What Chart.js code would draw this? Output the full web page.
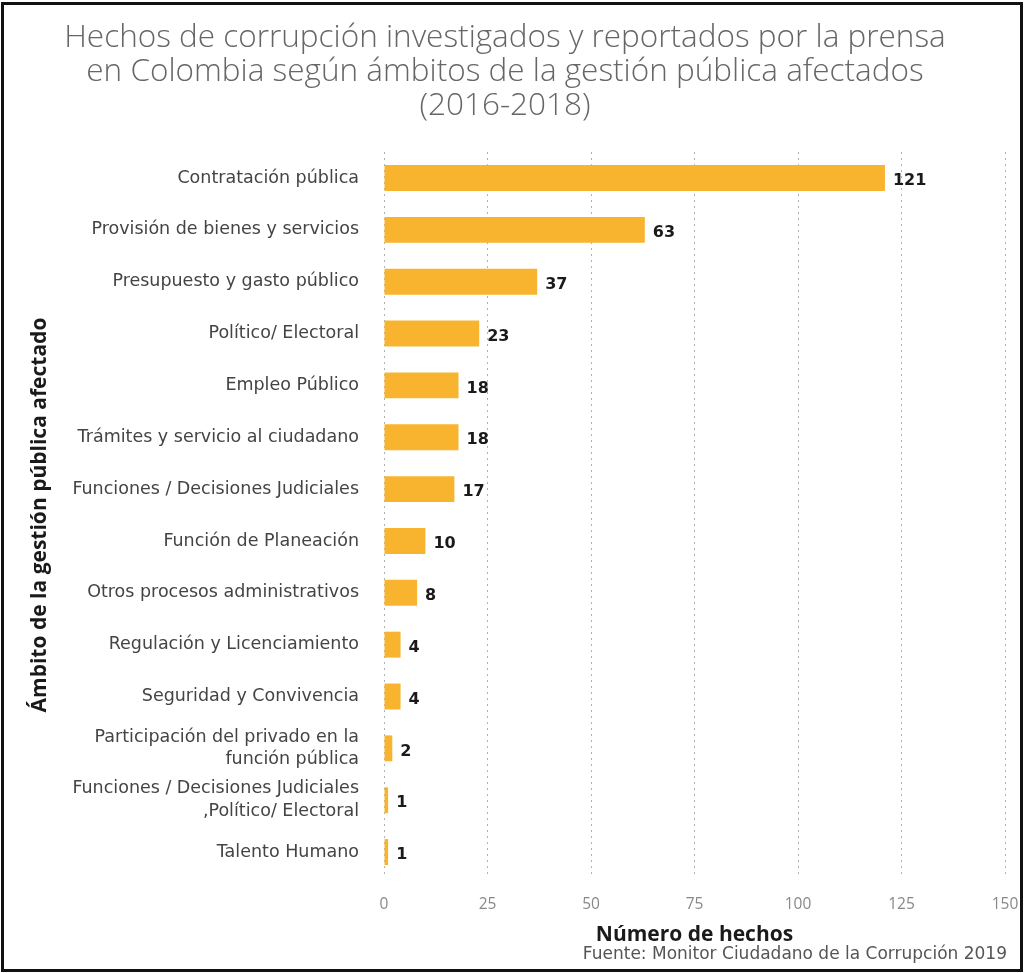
<!DOCTYPE html>
<html>
<head>
<meta charset="utf-8">
<script src="https://cdn.jsdelivr.net/npm/chart.js@4/dist/chart.umd.min.js"></script>
<style>
  html, body { margin: 0; padding: 0; background: #fff; }
  #wrap { position: absolute; left: 0; top: 0; width: 1024px; height: 973px; }
</style>
</head>
<body>
<div id="wrap"><canvas id="chart" width="1024" height="973"></canvas></div>
<script>
// ===== Data =====
const categories = [
  'Contratación pública',
  'Provisión de bienes y servicios',
  'Presupuesto y gasto público',
  'Político/ Electoral',
  'Empleo Público',
  'Trámites y servicio al ciudadano',
  'Funciones / Decisiones Judiciales',
  'Función de Planeación',
  'Otros procesos administrativos',
  'Regulación y Licenciamiento',
  'Seguridad y Convivencia',
  ['Participación del privado en la', 'función pública'],
  ['Funciones / Decisiones Judiciales', ',Político/ Electoral'],
  'Talento Humano'
];
const hechos = [121, 63, 37, 23, 18, 18, 17, 10, 8, 4, 4, 2, 1, 1];
const xTicks = [0, 25, 50, 75, 100, 125, 150];

const titleLines = [
  'Hechos de corrupción investigados y reportados por la prensa',
  'en Colombia según ámbitos de la gestión pública afectados',
  '(2016-2018)'
];
const sourceText = 'Fuente: Monitor Ciudadano de la Corrupción 2019';

// ===== Plugins =====
const valueLabels = {
  id: 'valueLabels',
  afterDatasetsDraw(chart) {
    const { ctx } = chart;
    const meta = chart.getDatasetMeta(0);
    ctx.save();
    ctx.font = 'bold 16px "DejaVu Sans", sans-serif';
    ctx.fillStyle = '#1a1a1a';
    ctx.textAlign = 'left';
    ctx.textBaseline = 'middle';
    meta.data.forEach((bar, i) => {
      ctx.fillText(String(hechos[i]), bar.x + 8, bar.y + 3);
    });
    ctx.restore();
  }
};

const frame = {
  id: 'frame',
  afterDraw(chart) {
    const { ctx } = chart;
    ctx.save();
    ctx.font = '17px "DejaVu Sans", sans-serif';
    ctx.fillStyle = '#555';
    ctx.textAlign = 'right';
    ctx.textBaseline = 'middle';
    ctx.fillText(sourceText, 1007, 955);
    ctx.strokeStyle = '#111';
    ctx.lineWidth = 3;
    ctx.strokeRect(2.5, 3.5, 1019, 967);
    ctx.restore();
  }
};

// ===== Chart =====
new Chart(document.getElementById('chart'), {
  type: 'bar',
  data: {
    labels: categories,
    datasets: [{
      data: hechos,
      backgroundColor: '#F8B42E',
      borderWidth: 0,
      barPercentage: 0.5,
      categoryPercentage: 1.0
    }]
  },
  plugins: [valueLabels, frame],
  options: {
    indexAxis: 'y',
    responsive: false,
    animation: false,
    devicePixelRatio: 1,
    layout: { padding: { left: 5, right: 19, top: 0, bottom: 0 } },
    plugins: {
      legend: { display: false },
      tooltip: { enabled: false },
      title: {
        display: true,
        text: titleLines,
        color: '#666',
        font: { family: '"Open Sans", sans-serif', size: 31.5, weight: '300', lineHeight: 1.08 },
        padding: { top: 21, bottom: 29 }
      }
    },
    scales: {
      x: {
        min: 0, max: 150,
        afterBuildTicks: (s) => { s.ticks = xTicks.map(v => ({ value: v })); },
        afterFit: (s) => { s.height = 973 - 878; s.paddingRight = 0; s.paddingLeft = 0; },
        border: { display: false, dash: [2, 4] },
        grid: { color: '#b0b0b0', lineWidth: 1, drawTicks: false },
        ticks: { color: '#888', padding: 17, font: { family: '"Open Sans", sans-serif', size: 15.5 } },
        title: {
          display: true,
          text: 'Número de hechos',
          color: '#1a1a1a',
          font: { family: '"Open Sans", sans-serif', size: 21, weight: 'bold' },
          padding: { top: 0, bottom: 25 }
        }
      },
      y: {
        afterFit: (s) => { s.width = 384 - 5; },
        border: { display: false },
        grid: { display: false, drawTicks: false },
        ticks: {
          color: '#444', padding: 25, autoSkip: false,
          font: { family: '"DejaVu Sans", sans-serif', size: 17.5, lineHeight: 1.3 }
        },
        title: {
          display: true,
          text: 'Ámbito de la gestión pública afectado',
          color: '#1a1a1a',
          font: { family: '"Open Sans", sans-serif', size: 21, weight: 'bold' },
          padding: { top: 22, bottom: 0 }
        }
      }
    }
  }
});
</script>
</body>
</html>
